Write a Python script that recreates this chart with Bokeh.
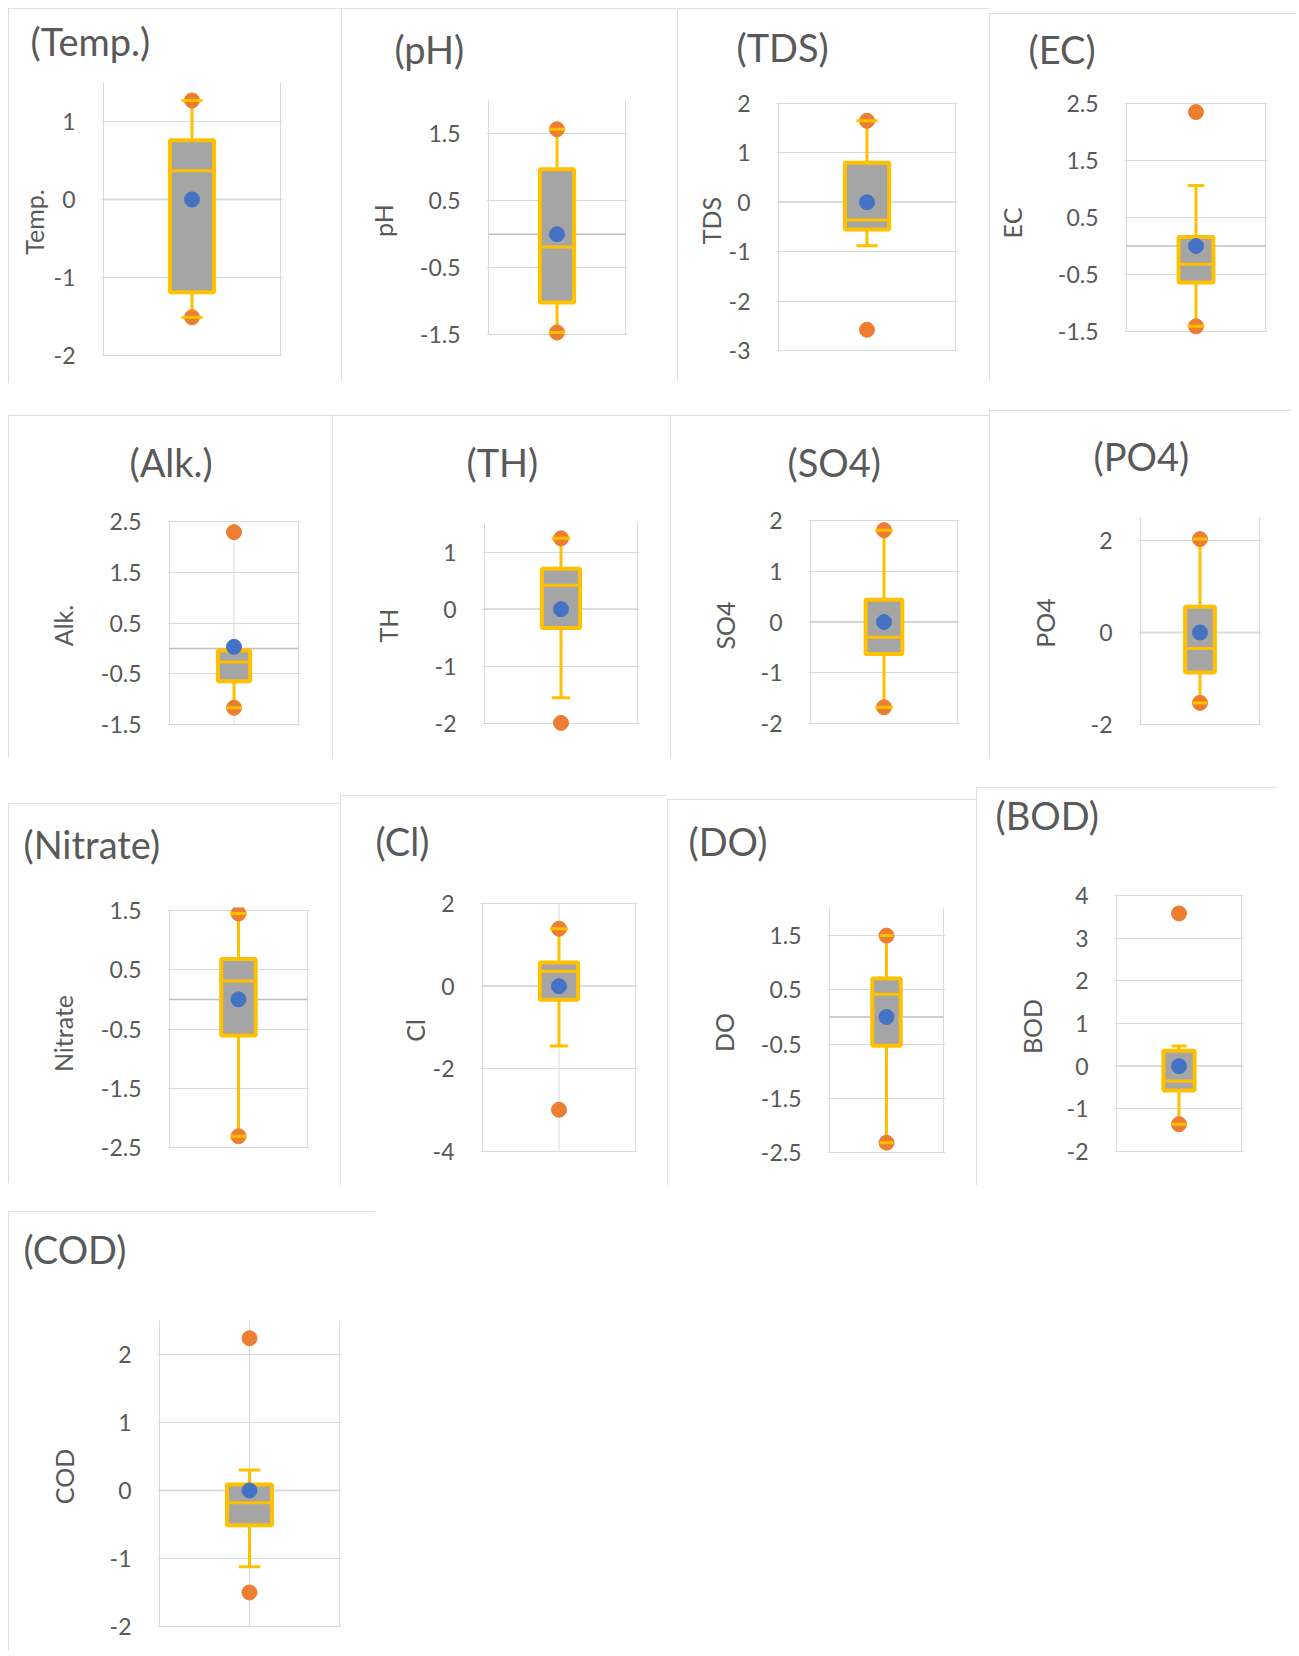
from bokeh.plotting import figure
from bokeh.layouts import row, column
from bokeh.models import Range1d, FixedTicker, Title
from bokeh.embed import file_html
from bokeh.resources import INLINE

# ---------------- data ----------------
names = ["Temp.", "pH", "TDS", "EC", "Alk.", "TH", "SO4", "PO4",
         "Nitrate", "Cl", "DO", "BOD", "COD"]
q1 = [-1.19, -1.02, -0.55, -0.64, -0.65, -0.33, -0.63, -0.87, -0.61, -0.33, -0.53, -0.57, -0.51]
median = [0.37, -0.19, -0.36, -0.32, -0.27, 0.42, -0.30, -0.35, 0.31, 0.36, 0.42, -0.35, -0.18]
q3 = [0.76, 0.97, 0.80, 0.16, -0.04, 0.71, 0.44, 0.56, 0.68, 0.57, 0.71, 0.36, 0.09]
whisker_lo = [-1.51, -1.47, -0.88, -1.41, -1.17, -1.55, -1.68, -1.53, -2.31, -1.45, -2.32, -1.36, -1.12]
whisker_hi = [1.27, 1.57, 1.65, 1.06, -0.04, 1.24, 1.81, 2.03, 1.45, 1.39, 1.50, 0.47, 0.30]
means = [0.0, 0.0, 0.0, 0.0, 0.03, 0.0, 0.0, 0.0, 0.0, 0.0, 0.0, 0.0, 0.0]
points = [[1.27, -1.51], [1.57, -1.47], [1.65, -2.58], [2.35, -1.41], [2.29, -1.17],
          [1.24, -1.99], [1.81, -1.68], [2.03, -1.53], [1.45, -2.31], [1.39, -2.99],
          [1.50, -2.32], [3.58, -1.36], [2.24, -1.50]]
y_min = [-2, -1.5, -3, -1.5, -1.5, -2, -2, -2, -2.5, -4, -2.5, -2, -2]
y_max = [1.5, 2, 2, 2.5, 2.5, 1.5, 2, 2.5, 1.5, 2, 2, 4, 2.5]
tick_labels = [
    ["-2", "-1", "0", "1"],
    ["-1.5", "-0.5", "0.5", "1.5"],
    ["-3", "-2", "-1", "0", "1", "2"],
    ["-1.5", "-0.5", "0.5", "1.5", "2.5"],
    ["-1.5", "-0.5", "0.5", "1.5", "2.5"],
    ["-2", "-1", "0", "1"],
    ["-2", "-1", "0", "1", "2"],
    ["-2", "0", "2"],
    ["-2.5", "-1.5", "-0.5", "0.5", "1.5"],
    ["-4", "-2", "0", "2"],
    ["-2.5", "-1.5", "-0.5", "0.5", "1.5"],
    ["-2", "-1", "0", "1", "2", "3", "4"],
    ["-2", "-1", "0", "1", "2"],
]
center_grid = [False, False, False, False, True, False, False, False, False, True, False, False, True]

# ---------------- layout (reference pixels at 1230 wide) ----------------
S = 1299 / 1230
panels = [(8, 8, 323, 363), (323, 8, 640, 360), (641, 8, 936, 360), (936, 12, 1228, 360),
          (8, 393, 314, 718), (314, 393, 634, 718), (634, 393, 936, 718), (936, 388, 1222, 718),
          (8, 760, 322, 1120), (322, 753, 632, 1122), (632, 757, 924, 1122), (924, 745, 1208, 1122),
          (8, 1147, 355, 1568)]
frames = [(98, 78, 265, 336), (462, 95, 592, 316), (737, 98, 904, 331), (1066, 98, 1198, 313),
          (160, 493, 282, 686), (458, 495, 603, 685), (767, 492, 906, 685), (1079, 490, 1192, 686),
          (160, 862, 291, 1086), (456, 855, 601, 1090), (785, 860, 893, 1091), (1057, 847, 1175, 1090),
          (151, 1250, 321, 1540)]
title_pos = [(28, 40), (373, 47), (697, 45), (973, 47), (122, 438), (441, 438), (745, 438),
             (1035, 433), (22, 800), (355, 797), (651, 797), (942, 773), (22, 1184)]
label_cx = [33, 365, 678, 960, 62, 368, 687, 990, 62, 402, 687, 978, 62]
rows_idx = [[0, 1, 2, 3], [4, 5, 6, 7], [8, 9, 10, 11], [12]]

MAX_R, MAX_B = 1296, 1650
FONT = "Lato"
TXT = "#595959"
GRID = "#d9d9d9"
GOLD = "#ffc000"
TICK_PX = 23
LABEL_PX = 25
TITLE_PX = 38
TITLE_H = 1.1 * TITLE_PX
PADX, PADT, PADB = 2, 3, 9


def px(v):
    return int(round(v * S))


def text_w(s):
    w = 0.0
    for ch in s:
        w += 0.37 if ch == "-" else (0.22 if ch == "." else 0.58)
    return w * TICK_PX


def panel_rect(i):
    L, T, R, B = panels[i]
    return px(L), px(T), min(px(R), MAX_R), min(px(B), MAX_B)


def make_fig(i, tb, bb):
    L, T, R, B = panel_rect(i)
    fl, vt, fr, vb = [px(v) for v in frames[i]]
    w, h = R - L, B - T
    FT, FB = T + tb, B - bb          # actual frame edges (page px)
    fw = fr - fl
    dx = PADX / fw
    k = (y_max[i] - y_min[i]) / (vb - vt)
    y0 = y_min[i] - (FB - vb) * k
    y1 = y_max[i] + (vt - FT) * k
    p = figure(width=w, height=h, output_backend="svg", toolbar_location=None,
               title=None, x_axis_type=None,
               x_range=Range1d(-dx, 1 + dx), y_range=Range1d(y0, y1),
               min_border_left=fl - L - PADX, min_border_right=R - fr - PADX,
               min_border_top=tb, min_border_bottom=bb,
               styles={"outline": "1px solid #d4d4d4", "outline-offset": "-1px"})
    p.outline_line_color = None
    p.background_fill_color = "white"
    p.border_fill_color = "white"
    p.xgrid.visible = False

    vals = [float(s) for s in tick_labels[i]]
    ax = p.yaxis[0]
    ax.ticker = FixedTicker(ticks=vals)
    ax.major_label_overrides = {v: s for v, s in zip(vals, tick_labels[i])}
    ax.axis_line_color = None
    ax.major_tick_line_color = None
    ax.minor_tick_line_color = None
    ax.major_label_standoff = 22 - PADX
    ax.major_label_text_font = FONT
    ax.major_label_text_font_size = f"{TICK_PX}px"
    ax.major_label_text_color = TXT
    ax.axis_label = names[i]
    ax.axis_label_text_font = FONT
    ax.axis_label_text_font_size = f"{LABEL_PX}px"
    ax.axis_label_text_font_style = "normal"
    ax.axis_label_text_color = TXT
    wmax = max(text_w(s) for s in tick_labels[i])
    dist = fl - px(label_cx[i])
    ax.axis_label_standoff = max(0, int(round(dist - 22 - wmax - 22)))

    p.ygrid.ticker = FixedTicker(ticks=vals)
    p.ygrid.grid_line_color = GRID
    p.ygrid.grid_line_width = 1

    # category boundaries (plot-area sides) and optional centre line
    xs = [0, 1] + ([0.5] if center_grid[i] else [])
    p.segment(x0=xs, x1=xs, y0=[y_min[i]] * len(xs), y1=[y_max[i]] * len(xs),
              line_color=GRID, line_width=1, level="underlay")
    # horizontal category axis at 0
    p.segment(x0=[0], x1=[1], y0=[0], y1=[0], line_color="#bfbfbf",
              line_width=1.5, level="underlay")

    bw = 0.25
    cw = 0.12
    p.segment(x0=[0.5, 0.5], y0=[q3[i], q1[i]], x1=[0.5, 0.5], y1=[whisker_hi[i], whisker_lo[i]],
              line_color=GOLD, line_width=3)
    p.vbar(x=[0.5], width=bw, top=[q3[i]], bottom=[q1[i]],
           fill_color="#a5a5a5", line_color=GOLD, line_width=4)
    p.segment(x0=[0.5 - bw / 2], x1=[0.5 + bw / 2], y0=[median[i]], y1=[median[i]],
              line_color=GOLD, line_width=3)
    p.scatter(x=[0.5] * len(points[i]), y=points[i], size=15,
              fill_color="#ed7d31", line_color="#ed7d31")
    p.segment(x0=[0.5 - cw / 2] * 2, x1=[0.5 + cw / 2] * 2,
              y0=[whisker_hi[i], whisker_lo[i]], y1=[whisker_hi[i], whisker_lo[i]],
              line_color=GOLD, line_width=3)
    p.scatter(x=[0.5], y=[means[i]], size=15, fill_color="#4472c4", line_color="#4472c4")

    # panel title: a blank spacer next to the frame, then the title text
    tx, ty = title_pos[i]
    Y = px(ty)
    spacer = max(0, int(round(FT - Y - TITLE_H / 2)) - 3)
    p.add_layout(Title(text=" ", text_font_size="1px", standoff=spacer), "above")
    p.add_layout(Title(text="(" + names[i] + ")", align="left",
                       offset=px(tx) - (fl - PADX), standoff=0,
                       text_font=FONT, text_font_size=f"{TITLE_PX}px",
                       text_font_style="normal", text_color=TXT), "above")
    return p


rows = []
prev_bottom = 0
for idxs in rows_idx:
    rects = [panel_rect(i) for i in idxs]
    tb = min(px(frames[i][1]) - PADT - r[1] for i, r in zip(idxs, rects))
    bb = min(r[3] - px(frames[i][3]) - PADB for i, r in zip(idxs, rects))
    row_top = prev_bottom
    prev_right = 0
    bottom = row_top
    kids = []
    for i, (L, T, R, B) in zip(idxs, rects):
        p = make_fig(i, tb, bb)
        p.margin = (T - row_top, 0, 0, L - prev_right)
        prev_right = R
        bottom = max(bottom, B)
        kids.append(p)
    rows.append(row(kids))
    prev_bottom = bottom

layout = column(rows)
open("out.html", "w").write(file_html(layout, INLINE))
